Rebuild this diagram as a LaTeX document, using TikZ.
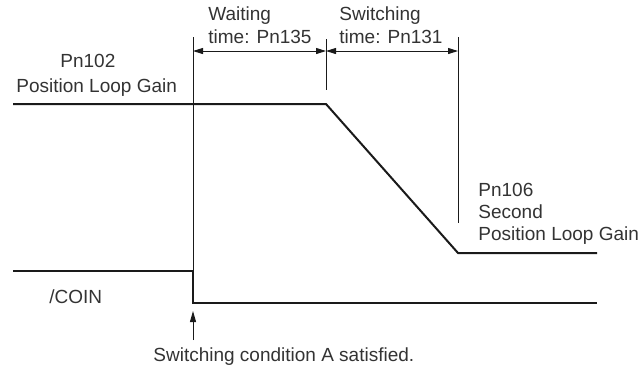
\documentclass[tikz,border=0pt]{standalone}
\usepackage{fontspec}
\setmainfont{Liberation Sans}
\usetikzlibrary{arrows.meta}
\definecolor{tcInk}{HTML}{1A1A1A}
\definecolor{tcText}{HTML}{333333}
\tikzset{
 timing/.style={line cap=butt,line join=miter,x=.5pt,y=-.5pt,
   font=\fontsize{9.5}{11}\selectfont},
 lbl/.style={inner sep=0pt,anchor=base west,text=tcText},
 signal/.style={draw=tcInk,line width=1pt},
 marker/.style={draw=tcInk,line width=.5pt},
 span/.style={marker,{Triangle[length=5pt,width=3pt]}-{Triangle[length=5pt,width=3pt]}},
 event/.style={marker,-{Triangle[length=5.5pt,width=3pt]}}
}

\begin{document}
\begin{tikzpicture}[timing]
 \useasboundingbox (0,0) rectangle (642,372);
 % gain and /COIN waveforms
 \coordinate (g0) at (13,104); \coordinate (g1) at (326,104);
 \coordinate (g2) at (458,253); \coordinate (g3) at (597,253);
 \coordinate (c0) at (13,271); \coordinate (c1) at (193,271);
 \coordinate (c2) at (193,303); \coordinate (c3) at (597,303);
 \draw[signal] (g0)--(g1)--(g2)--(g3);
 \draw[signal] (c0)--(c1)--(c2)--(c3);
 % time marks
 \coordinate (tA) at (193,37); \coordinate (tB) at (326,39); \coordinate (tC) at (458,37);
 \coordinate (tBend) at (326,90); \coordinate (tCend) at (458,223);
 \draw[marker] (tA)--(c1);
 \draw[marker] (tB)--(tBend);
 \draw[marker] (tC)--(tCend);
 \coordinate (dA) at (193,51); \coordinate (dB) at (326,51); \coordinate (dC) at (458,51);
 \draw[span] (dA)--(dB);
 \draw[span] (dB)--(dC);
 \coordinate (ev) at (193,340); \coordinate (evtip) at (193,311);
 \draw[event] (ev)--(evtip);
 % labels
 \node[lbl] (wait1) at (208,20.7) {Waiting};
 \node[lbl] (wait2) at (208,43.3) {time: Pn135};
 \node[lbl] (sw1) at (339,20.7) {Switching};
 \node[lbl] (sw2) at (339,43.3) {time: Pn131};
 \node[lbl] (pnA) at (60,67.7) {Pn102};
 \node[lbl] (gainA) at (16,92.3) {Position Loop Gain};
 \node[lbl] (pnB) at (478,196) {Pn106};
 \node[lbl] (secB) at (478,218) {Second};
 \node[lbl] (gainB) at (478,240) {Position Loop Gain};
 \node[lbl] (coin) at (49,303) {/COIN};
 \node[lbl] (cond) at (153,361) {Switching condition A satisfied.};
\end{tikzpicture}
\end{document}
